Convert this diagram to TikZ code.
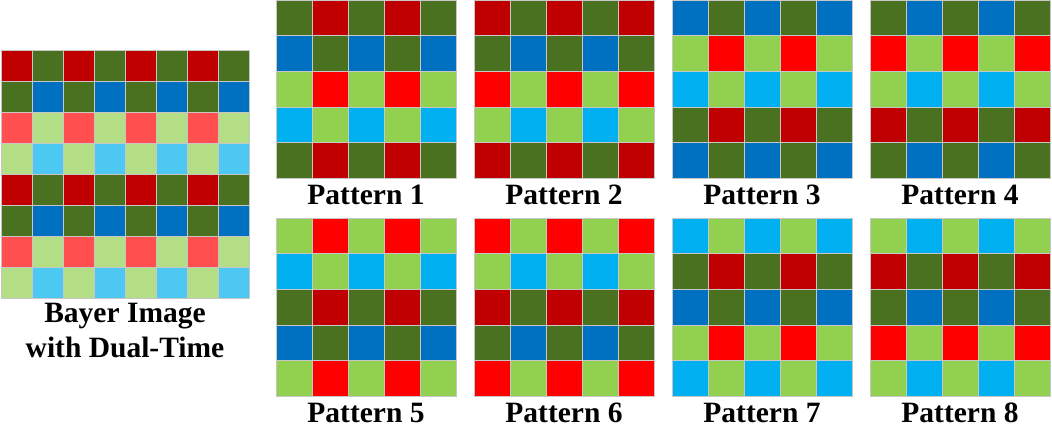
\documentclass[tikz,border=0pt]{standalone}
\usepackage{fontspec}
\setmainfont{Liberation Serif}
% dark rows
\definecolor{c00}{HTML}{C00000}
\definecolor{c01}{HTML}{4A711F}
\definecolor{c10}{HTML}{4A711F}
\definecolor{c11}{HTML}{0070C0}
% light rows
\definecolor{c20}{HTML}{FF0000}
\definecolor{c21}{HTML}{92D050}
\definecolor{c30}{HTML}{92D050}
\definecolor{c31}{HTML}{00B0F0}
% faded light rows (Bayer image)
\definecolor{b00}{HTML}{C00000}
\definecolor{b01}{HTML}{4A711F}
\definecolor{b10}{HTML}{4A711F}
\definecolor{b11}{HTML}{0070C0}
\definecolor{b20}{HTML}{FF4F4F}
\definecolor{b21}{HTML}{B3DE86}
\definecolor{b30}{HTML}{B3DE86}
\definecolor{b31}{HTML}{4DC8F3}
\begin{document}
\begin{tikzpicture}[x=1pt,y=-1pt,
  cellbox/.style={draw=black!22, line width=0.5pt},
  lab/.style={font=\fontsize{29.5}{35}\selectfont\bfseries, anchor=base, inner sep=0pt}]
\useasboundingbox (0,0) rectangle (1052,447);
% Bayer image
\foreach \i in {0,...,7}{
  \foreach \j in {0,...,7}{
    \pgfmathtruncatemacro\rr{mod(\j,4)}
    \pgfmathtruncatemacro\cc{mod(\i,2)}
    \filldraw[cellbox, fill=b\rr\cc] (1+\i*31, 50+\j*31) rectangle ++(31,31);
  }
}
\node[lab] (bay1) at (125,322) {Bayer Image};
\node[lab] (bay2) at (125,357) {with Dual-Time};
% Patterns
\foreach \k/\dx/\dy/\px/\py in {1/1/0/276/0, 2/0/0/474/0, 3/1/1/672/0, 4/0/1/870/0,
                                5/1/2/276/218, 6/0/2/474/218, 7/1/3/672/218, 8/0/3/870/218}{
  \foreach \i in {0,...,4}{
    \foreach \j in {0,...,4}{
      \pgfmathtruncatemacro\rr{mod(\j+\dy,4)}
      \pgfmathtruncatemacro\cc{mod(\i+\dx,2)}
      \filldraw[cellbox, fill=c\rr\cc] (\px+\i*36, \py+\j*35.6) rectangle ++(36,35.6);
    }
  }
  \node[lab] (p\k) at (\px+90, \py+204) {Pattern \k};
}
\end{tikzpicture}
\end{document}
